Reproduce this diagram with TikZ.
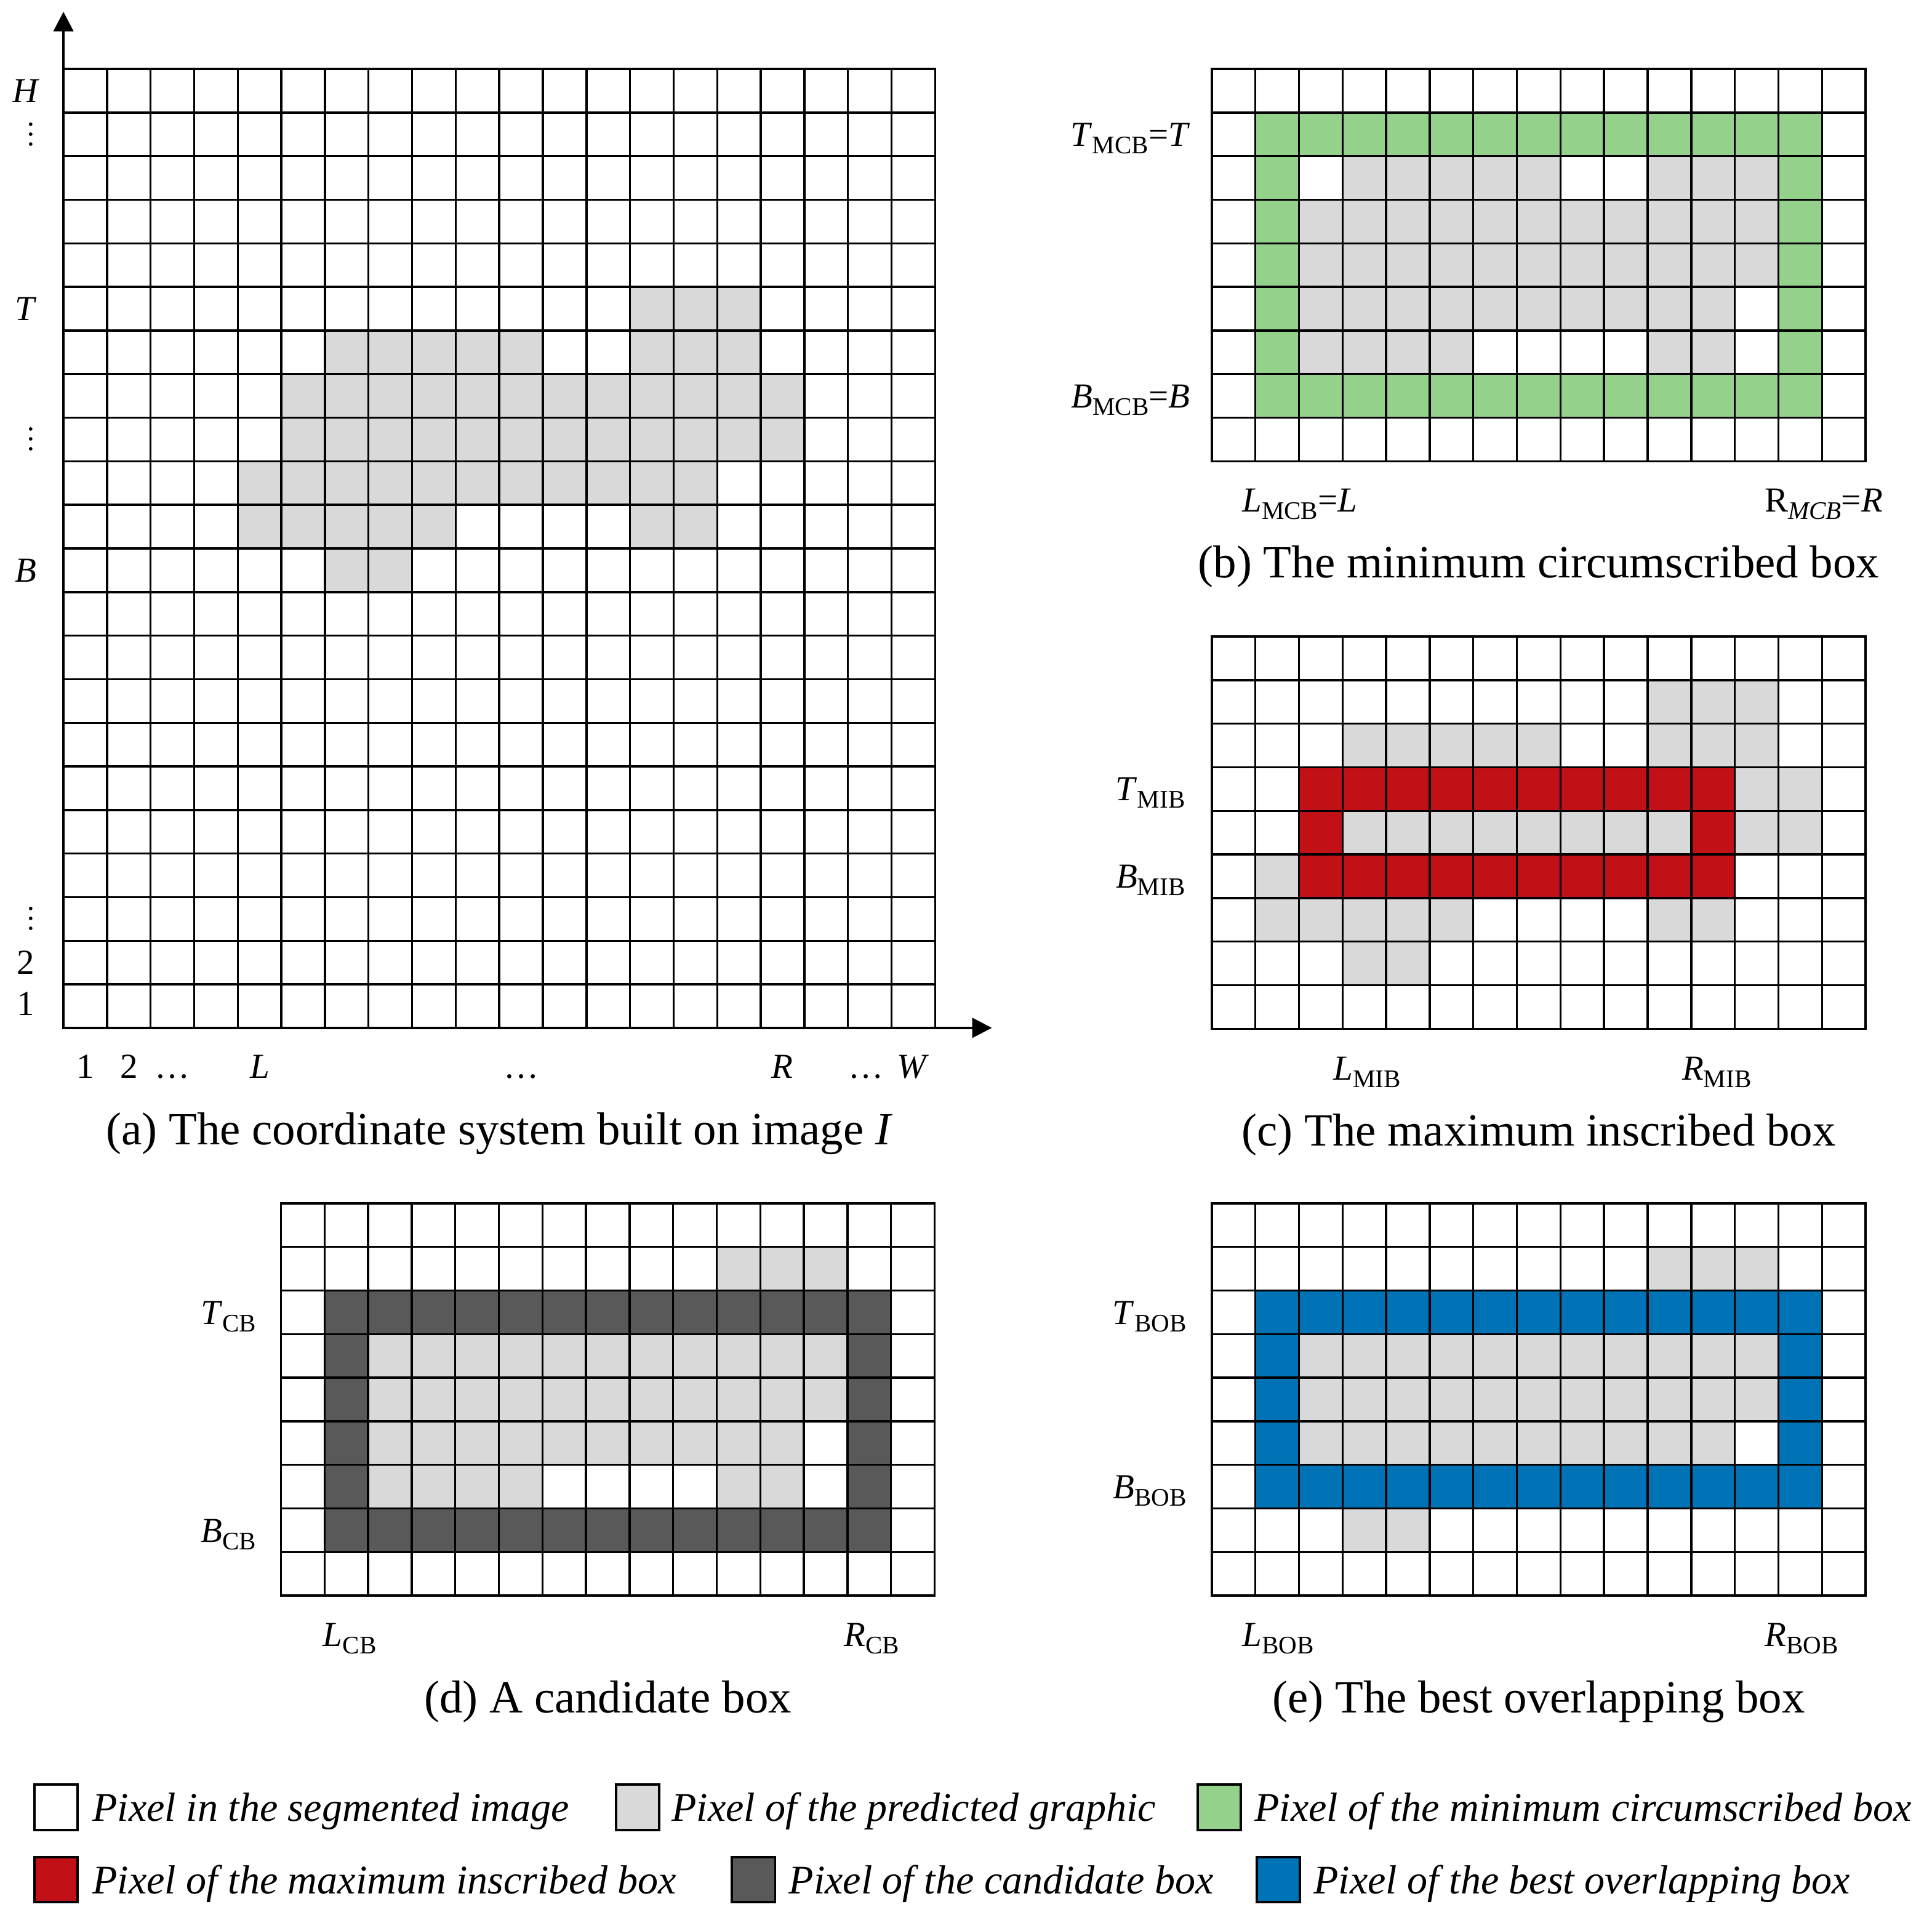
\documentclass[tikz,border=0pt]{standalone}
\usepackage{fontspec}
\setmainfont{Liberation Serif}
\usetikzlibrary{arrows.meta}
\definecolor{pgray}{RGB}{217,217,217}
\definecolor{mcbgreen}{RGB}{148,209,138}
\definecolor{mibred}{RGB}{193,17,22}
\definecolor{cbdark}{RGB}{89,89,89}
\definecolor{bobblue}{RGB}{0,115,183}
\newcommand\labfont{\fontsize{28.5}{30}\selectfont}
\newcommand\capfont{\fontsize{37.4}{40}\selectfont}
\newcommand\legfont{\fontsize{33}{36}\selectfont\itshape}
\newcommand\subfont{\fontsize{20.5}{22}\selectfont}
\newcommand\dotfont{\fontsize{24}{26}\selectfont}
\newcommand\sbx[1]{\raisebox{-6pt}{\subfont #1}}
\def\cs{35.37}
% x0, y0, row, first col, last col, colour
\newcommand\cellrow[6]{\fill[#6] ({#1+(#4)*\cs},{#2+(#3)*\cs}) rectangle ({#1+(#5+1)*\cs},{#2+(#3+1)*\cs});}
% x0, y0, col offset, row offset
\newcommand\shapecells[4]{%
  \foreach \r/\a/\b in {1/10/12, 2/3/7, 2/10/12, 3/2/13, 4/2/13, 5/1/11, 6/1/5, 6/10/11, 7/3/4}
    {\cellrow{#1}{#2}{\r+#4}{\a+#3}{\b+#3}{pgray}}}
% x0, y0, top, bottom, left, right, colour
\newcommand\ring[7]{%
  \cellrow{#1}{#2}{#3}{#5}{#6}{#7}
  \cellrow{#1}{#2}{#4}{#5}{#6}{#7}
  \fill[#7] ({#1+(#5)*\cs},{#2+(#3)*\cs}) rectangle ({#1+(#5+1)*\cs},{#2+(#4+1)*\cs});
  \fill[#7] ({#1+(#6)*\cs},{#2+(#3)*\cs}) rectangle ({#1+(#6+1)*\cs},{#2+(#4+1)*\cs});}
% x0, y0, ncols, nrows
\newcommand\gridlines[4]{%
  \foreach \i in {0,...,#3} {\draw[gridl] ({#1+\i*\cs},{#2}) -- ({#1+\i*\cs},{#2+#4*\cs});}
  \foreach \j in {0,...,#4} {\draw[gridl] ({#1},{#2+\j*\cs}) -- ({#1+#3*\cs},{#2+\j*\cs});}}
\begin{document}
\begin{tikzpicture}[x=1pt,y=-1pt,
  gridl/.style={line width=1.7pt, line cap=rect},
  axisl/.style={line width=2.2pt, -{Triangle[length=16pt,width=16pt]}},
  lab/.style={inner sep=0pt, font=\labfont},
  dotl/.style={inner sep=0pt, font=\dotfont, rotate=90, anchor=base},
  captext/.style={inner sep=0pt, font=\capfont, anchor=base},
  leg/.style={inner sep=0pt, font=\legfont, anchor=base west},
  sw/.style={draw=black, line width=1.7pt}]
\path[use as bounding box, fill=white] (0,0) rectangle (1568,1560.5);

% ---------- (a)
\shapecells{51.5}{56}{3}{4}
\gridlines{51.5}{56}{20}{22}
\coordinate (O) at (51.5,834.1);
\coordinate (ytip) at (51.5,9.5);
\coordinate (xtip) at (805,834.1);
\draw[axisl] (O) -- (ytip);
\draw[axisl] (O) -- (xtip);
\node[lab, anchor=base] (yH) at (21,83.1) {\textit{H}};
\node[dotl] (yd1) at (26,109.1) {…};
\node[lab, anchor=base] (yT) at (21,259.9) {\textit{T}};
\node[dotl] (yd2) at (26,356.6) {…};
\node[lab, anchor=base] (yB) at (21,472.2) {\textit{B}};
\node[dotl] (yd3) at (26,745.7) {…};
\node[lab, anchor=base] (y2) at (21,790.7) {2};
\node[lab, anchor=base] (y1) at (21,824) {1};
\node[lab, anchor=base] (x1) at (69.2,875) {1};
\node[lab, anchor=base] (x2) at (104.6,875) {2};
\node[lab, anchor=base] (xd1) at (140,875) {…};
\node[lab, anchor=base] (xL) at (210.8,875) {\textit{L}};
\node[lab, anchor=base] (xd2) at (423,875) {…};
\node[lab, anchor=base] (xR) at (635,875) {\textit{R}};
\node[lab, anchor=base] (xd3) at (703,875) {…};
\node[lab, anchor=base] (xW) at (741,875) {\textit{W}};
\node[captext] (capa) at (405.2,929) {(a) The coordinate system built on image \textit{I}};

% ---------- (b)
\shapecells{983.5}{56}{0}{0}
\ring{983.5}{56}{1}{7}{1}{13}{mcbgreen}
\gridlines{983.5}{56}{15}{9}
\node[lab, anchor=base east] (bT) at (966,118.5) {\textit{T}\sbx{MCB}=\textit{T}};
\node[lab, anchor=base east] (bB) at (966,330.7) {\textit{B}\sbx{MCB}=\textit{B}};
\node[lab, anchor=base west] (bL) at (1008,415.5) {\textit{L}\sbx{MCB}=\textit{L}};
\node[lab, anchor=base west] (bR) at (1432,415.5) {R\sbx{\itshape MCB}=\textit{R}};
\node[captext] (capb) at (1248.8,469) {(b) The minimum circumscribed box};

% ---------- (c)
\shapecells{983.5}{516.5}{0}{0}
\ring{983.5}{516.5}{3}{5}{2}{11}{mibred}
\gridlines{983.5}{516.5}{15}{9}
\node[lab, anchor=base east] (cT) at (962,649.8) {\textit{T}\sbx{MIB}};
\node[lab, anchor=base east] (cB) at (962,720.6) {\textit{B}\sbx{MIB}};
\node[lab, anchor=base west] (cL) at (1082,876.5) {\textit{L}\sbx{MIB}};
\node[lab, anchor=base west] (cR) at (1365,876.5) {\textit{R}\sbx{MIB}};
\node[captext] (capc) at (1248.8,929.8) {(c) The maximum inscribed box};

% ---------- (d)
\shapecells{228}{976.5}{0}{0}
\ring{228}{976.5}{2}{7}{1}{13}{cbdark}
\gridlines{228}{976.5}{15}{9}
\node[lab, anchor=base east] (dT) at (208,1074.5) {\textit{T}\sbx{CB}};
\node[lab, anchor=base east] (dB) at (208,1251.5) {\textit{B}\sbx{CB}};
\node[lab, anchor=base west] (dL) at (262,1336) {\textit{L}\sbx{CB}};
\node[lab, anchor=base west] (dR) at (685,1336) {\textit{R}\sbx{CB}};
\node[captext] (capd) at (493.3,1390) {(d) A candidate box};

% ---------- (e)
\shapecells{983.5}{976.5}{0}{0}
\ring{983.5}{976.5}{2}{6}{1}{13}{bobblue}
\gridlines{983.5}{976.5}{15}{9}
\node[lab, anchor=base east] (eT) at (963,1074.5) {\textit{T}\sbx{BOB}};
\node[lab, anchor=base east] (eB) at (963,1216) {\textit{B}\sbx{BOB}};
\node[lab, anchor=base west] (eL) at (1008,1336) {\textit{L}\sbx{BOB}};
\node[lab, anchor=base west] (eR) at (1432,1336) {\textit{R}\sbx{BOB}};
\node[captext] (cape) at (1248.8,1390) {(e) The best overlapping box};

% ---------- legend
\draw[sw, fill=white] (28,1448) rectangle (63,1485);
\node[leg] (l1) at (75,1478) {Pixel in the segmented image};
\draw[sw, fill=pgray] (500,1448) rectangle (535,1485);
\node[leg] (l2) at (545,1478) {Pixel of the predicted graphic};
\draw[sw, fill=mcbgreen] (972,1448) rectangle (1007,1485);
\node[leg] (l3) at (1018,1478) {Pixel of the minimum circumscribed box};
\draw[sw, fill=mibred] (28,1507) rectangle (63,1543.5);
\node[leg] (l4) at (75,1537) {Pixel of the maximum inscribed box};
\draw[sw, fill=cbdark] (594,1507) rectangle (629,1543.5);
\node[leg] (l5) at (640,1537) {Pixel of the candidate box};
\draw[sw, fill=bobblue] (1020,1507) rectangle (1055,1543.5);
\node[leg] (l6) at (1066,1537) {Pixel of the best overlapping box};
\end{tikzpicture}
\end{document}
